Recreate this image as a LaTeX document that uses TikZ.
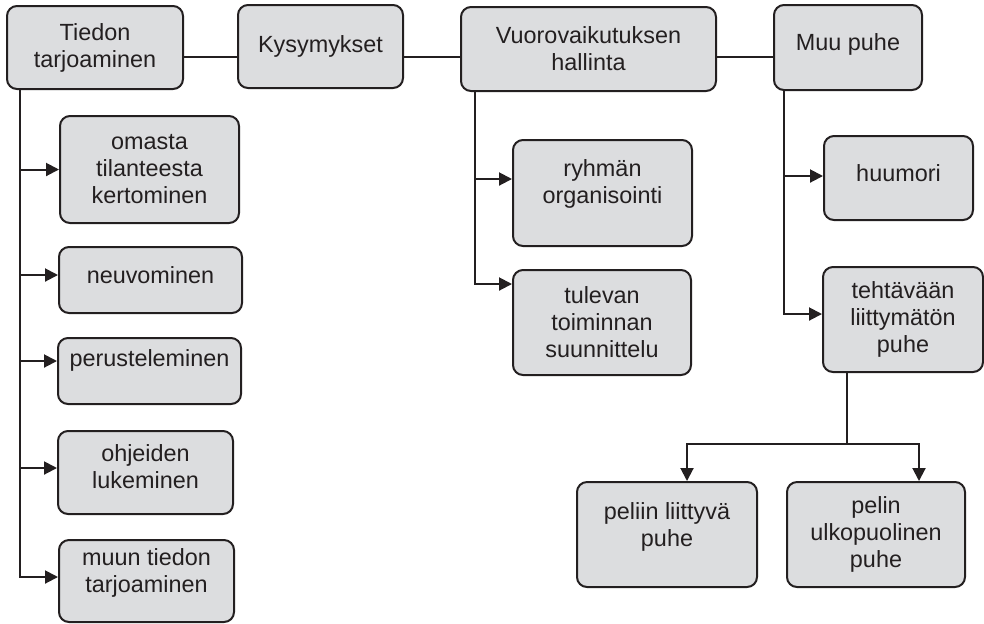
\documentclass[tikz,border=0pt]{standalone}
\usepackage{fontspec}
\setmainfont{Liberation Sans}
\usepackage{tikz}
\usetikzlibrary{arrows.meta}
\definecolor{boxgray}{HTML}{DCDDDF}
\definecolor{ink}{HTML}{231F20}

\begin{document}
\begin{tikzpicture}[x=0.5pt, y=-0.5pt,
  box/.style={draw=ink, fill=boxgray, line width=1pt, rounded corners=5pt, align=center,
              font=\fontsize{11.7}{13.5}\selectfont, text=ink, inner sep=2pt},
  link/.style={draw=ink, line width=1pt},
  arr/.style={link, -{Triangle[length=6.5pt, width=6.5pt]}},
  lift/.style={text depth=#1}]
\useasboundingbox (0,0) rectangle (984,623);
% main categories
\node[box, minimum width=88pt, minimum height=41.5pt] (tiedon) at (95,47.5) {Tiedon\\tarjoaminen};
\node[box, minimum width=82.5pt, minimum height=41.5pt] (kysym) at (320.5,46.5) {Kysymykset};
\node[box, minimum width=127.5pt, minimum height=42pt] (vuoro) at (588.5,49) {Vuorovaikutuksen\\hallinta};
\node[box, minimum width=74pt, minimum height=42.5pt, lift=5pt] (muu) at (848,47.5) {Muu puhe};
% Tiedon tarjoaminen
\node[box, minimum width=89.5pt, minimum height=53.5pt] (omasta) at (149.5,169.5) {omasta\\tilanteesta\\kertominen};
\node[box, minimum width=91.5pt, minimum height=33pt, lift=5pt] (neuvo) at (150.5,280) {neuvominen};
\node[box, minimum width=91.5pt, minimum height=33pt, lift=12.5pt] (perust) at (149.5,371) {perusteleminen};
\node[box, minimum width=87.5pt, minimum height=41.5pt, lift=5.5pt] (ohjeet) at (145.5,472.5) {ohjeiden\\lukeminen};
\node[box, minimum width=87.5pt, minimum height=41pt, lift=10.5pt] (muun) at (146.5,581) {muun tiedon\\tarjoaminen};
% Vuorovaikutuksen hallinta
\node[box, minimum width=89.5pt, minimum height=53pt, lift=11.5pt] (ryhma) at (602.5,193) {ryhmän\\organisointi};
\node[box, minimum width=89pt, minimum height=52.5pt] (tuleva) at (602,322.5) {tulevan\\toiminnan\\suunnittelu};
% Muu puhe
\node[box, minimum width=74.5pt, minimum height=42pt, lift=5pt] (huumori) at (898.5,178) {huumori};
\node[box, minimum width=80pt, minimum height=52.5pt] (tehtava) at (903,319.5) {tehtävään\\liittymätön\\puhe};
\node[box, minimum width=90pt, minimum height=52.5pt, lift=9.5pt] (peliin) at (667,534.5) {peliin liittyvä\\puhe};
\node[box, minimum width=89pt, minimum height=52.5pt] (ulko) at (876,534.5) {pelin\\ulkopuolinen\\puhe};

\coordinate (row) at (0,57);
\draw[link] (tiedon.east |- row) -- (kysym.west |- row);
\draw[link] (kysym.east |- row) -- (vuoro.west |- row);
\draw[link] (vuoro.east |- row) -- (muu.west |- row);

\coordinate (lt) at ([xshift=7pt]tiedon.south west);
\draw[arr] (lt) |- ([yshift=2pt]muun.west);
\draw[arr] (omasta.west -| lt) -- (omasta.west);
\draw[arr] ([yshift=2.5pt]neuvo.west -| lt) -- ([yshift=2.5pt]neuvo.west);
\draw[arr] ([yshift=5pt]perust.west -| lt) -- ([yshift=5pt]perust.west);
\draw[arr] ([yshift=2.25pt]ohjeet.west -| lt) -- ([yshift=2.25pt]ohjeet.west);

\coordinate (mt) at ([xshift=7.5pt]vuoro.south west);
\draw[arr] (mt) |- ([yshift=19.25pt]tuleva.west);
\draw[arr] ([yshift=7pt]ryhma.west -| mt) -- ([yshift=7pt]ryhma.west);

\coordinate (rt) at ([xshift=5.5pt]muu.south west);
\draw[arr] (rt) |- ([yshift=2.75pt]tehtava.west);
\draw[arr] ([yshift=1pt]huumori.west -| rt) -- ([yshift=1pt]huumori.west);

\coordinate (bt) at ([xshift=12.5pt]tehtava.south west);
\coordinate (split) at ([yshift=-35.5pt]bt);
\draw[arr] (bt) -- (split) -| ([xshift=10pt]peliin.north);
\draw[arr] (split) -| ([xshift=21.5pt]ulko.north);
\end{tikzpicture}
\end{document}
